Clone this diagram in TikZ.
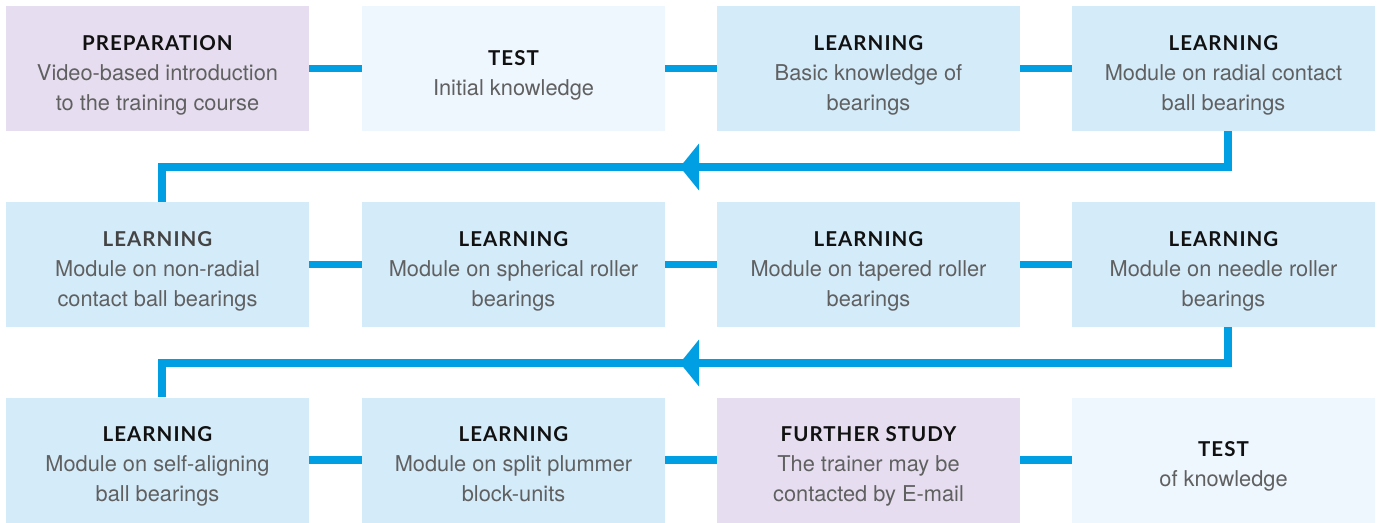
\documentclass[tikz,border=0pt]{standalone}
\usepackage{fontspec}
\setmainfont{TeX Gyre Heros}
\newfontfamily\titlefont[LetterSpace=5]{Lato}
\definecolor{prepc}{HTML}{E6DEF0}
\definecolor{testc}{HTML}{EEF6FE}
\definecolor{learnc}{HTML}{D4EBFA}
\definecolor{linec}{HTML}{009FE3}
\definecolor{bodyc}{HTML}{606060}
\definecolor{titlec}{HTML}{111111}
\definecolor{titlegray}{HTML}{444444}
\newcommand{\ttl}[2][titlec]{{\color{#1}\fontsize{20.5}{30}\titlefont\bfseries #2}}
\tikzset{
  box/.style={minimum width=303pt, minimum height=125pt, inner sep=0pt, draw=none},
  prep/.style={box, fill=prepc},
  testbox/.style={box, fill=testc},
  learn/.style={box, fill=learnc},
  lbl/.style={inner sep=0pt, align=center, text=bodyc, text depth=4.6pt,
    font=\fontsize{21.8}{30}\selectfont, yshift=-6.5pt},
  conn/.style={draw=linec, line width=7.5pt, line join=miter},
  arrowtip/.style={fill=linec}
}
\begin{document}
\begin{tikzpicture}[x=1pt, y=-1pt]
\useasboundingbox (0,0) rectangle (1381,522);
% row 1
\node[prep] (a1) at (157.5,68.5) {};
\node[testbox] (a2) at (513.5,68.5) {};
\node[learn] (a3) at (868.5,68.5) {};
\node[learn] (a4) at (1223.5,68.5) {};
% row 2
\node[learn] (b1) at (157.5,264.5) {};
\node[learn] (b2) at (513.5,264.5) {};
\node[learn] (b3) at (868.5,264.5) {};
\node[learn] (b4) at (1223.5,264.5) {};
% row 3
\node[learn] (c1) at (157.5,460) {};
\node[learn] (c2) at (513.5,460) {};
\node[prep] (c3) at (868.5,460) {};
\node[testbox] (c4) at (1223.5,460) {};
% texts
\node[lbl] (a1t) at (a1.center) {\ttl{PREPARATION}\\Video-based introduction\\to the training course};
\node[lbl] (a2t) at (a2.center) {\ttl{TEST}\\Initial knowledge};
\node[lbl] (a3t) at (a3.center) {\ttl{LEARNING}\\Basic knowledge of\\bearings};
\node[lbl] (a4t) at (a4.center) {\ttl{LEARNING}\\Module on radial contact\\ball bearings};
\node[lbl] (b1t) at (b1.center) {\ttl[titlegray]{LEARNING}\\Module on non-radial\\contact ball bearings};
\node[lbl] (b2t) at (b2.center) {\ttl{LEARNING}\\Module on spherical roller\\bearings};
\node[lbl] (b3t) at (b3.center) {\ttl{LEARNING}\\Module on tapered roller\\bearings};
\node[lbl] (b4t) at (b4.center) {\ttl{LEARNING}\\Module on needle roller\\bearings};
\node[lbl] (c1t) at (c1.center) {\ttl{LEARNING}\\Module on self-aligning\\ball bearings};
\node[lbl] (c2t) at (c2.center) {\ttl{LEARNING}\\Module on split plummer\\block-units};
\node[lbl] (c3t) at (c3.center) {\ttl{FURTHER STUDY}\\The trainer may be\\contacted by E-mail};
\node[lbl] (c4t) at (c4.center) {\ttl{TEST}\\of knowledge};
% horizontal connectors
\draw[conn] (a1) -- (a2);
\draw[conn] (a2) -- (a3);
\draw[conn] (a3) -- (a4);
\draw[conn] (b1) -- (b2);
\draw[conn] (b2) -- (b3);
\draw[conn] (b3) -- (b4);
\draw[conn] (c1) -- (c2);
\draw[conn] (c2) -- (c3);
\draw[conn] (c3) -- (c4);
% row-change connectors
\coordinate (t1) at (0,167);
\coordinate (t2) at (0,363);
\draw[conn] ([xshift=4.5pt]a4.south) -- ([xshift=4.5pt]a4.south |- t1) -| ([xshift=4.5pt]b1.north);
\draw[conn] ([xshift=4.5pt]b4.south) -- ([xshift=4.5pt]b4.south |- t2) -| ([xshift=4.5pt]c1.north);
\fill[arrowtip] (680,167) -- (699,143.5) -- (699,190.5) -- cycle;
\fill[arrowtip] (680,363) -- (699,339.5) -- (699,386.5) -- cycle;
\end{tikzpicture}
\end{document}
